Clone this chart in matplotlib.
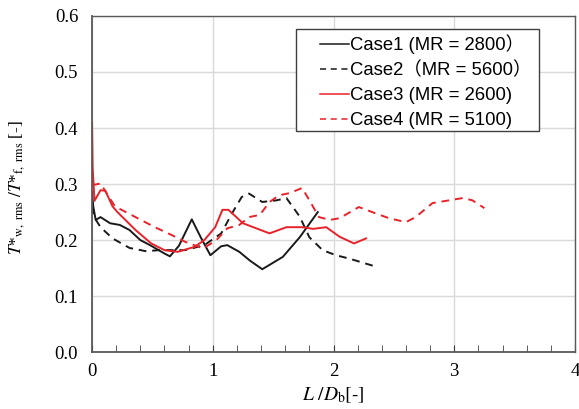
import matplotlib
matplotlib.use("Agg")
import matplotlib.pyplot as plt
from matplotlib.ticker import MultipleLocator, FormatStrFormatter
from matplotlib.patches import Rectangle

plt.rcParams['mathtext.fontset'] = 'stix'

# Case1 (black solid)
c1_x = [0.00, 0.01, 0.03, 0.07, 0.15, 0.23, 0.31, 0.40, 0.48, 0.60, 0.645, 0.72, 0.826, 0.90, 0.98, 1.07, 1.12, 1.22, 1.31, 1.41, 1.58, 1.72, 1.87]
c1_y = [0.285, 0.26, 0.236, 0.241, 0.23, 0.227, 0.218, 0.200, 0.191, 0.176, 0.171, 0.19, 0.237, 0.205, 0.173, 0.189, 0.191, 0.179, 0.163, 0.148, 0.170, 0.205, 0.250]

# Case2 (black dashed)
c2_x = [0.00, 0.02, 0.07, 0.17, 0.31, 0.45, 0.55, 0.77, 0.93, 1.07, 1.16, 1.24, 1.30, 1.41, 1.53, 1.61, 1.72, 1.80, 1.91, 2.02, 2.13, 2.33]
c2_y = [0.26, 0.24, 0.223, 0.203, 0.186, 0.18, 0.182, 0.182, 0.191, 0.212, 0.248, 0.277, 0.283, 0.268, 0.271, 0.275, 0.242, 0.205, 0.182, 0.173, 0.167, 0.154]

# Case3 (red solid)
c3_x = [0.00, 0.005, 0.02, 0.07, 0.11, 0.17, 0.21, 0.36, 0.49, 0.60, 0.71, 0.85, 0.93, 1.02, 1.08, 1.13, 1.25, 1.47, 1.61, 1.74, 1.83, 1.94, 2.05, 2.17, 2.27]
c3_y = [0.41, 0.33, 0.27, 0.289, 0.288, 0.26, 0.25, 0.218, 0.194, 0.182, 0.179, 0.188, 0.200, 0.223, 0.254, 0.254, 0.230, 0.212, 0.223, 0.223, 0.220, 0.223, 0.206, 0.194, 0.203]

# Case4 (red dashed)
c4_x = [0.00, 0.07, 0.19, 0.36, 0.52, 0.66, 0.77, 0.92, 1.03, 1.12, 1.22, 1.30, 1.39, 1.47, 1.55, 1.64, 1.74, 1.80, 1.88, 1.97, 2.05, 2.21, 2.32, 2.46, 2.60, 2.68, 2.82, 2.96, 3.07, 3.15, 3.25]
c4_y = [0.298, 0.301, 0.26, 0.241, 0.223, 0.209, 0.197, 0.185, 0.200, 0.221, 0.227, 0.241, 0.245, 0.268, 0.280, 0.284, 0.293, 0.271, 0.241, 0.236, 0.239, 0.259, 0.250, 0.239, 0.232, 0.241, 0.266, 0.271, 0.275, 0.271, 0.257]

labels = ['Case1 (MR = 2800\uff09', 'Case2\uff08MR = 5600\uff09',
          'Case3 (MR = 2600)', 'Case4 (MR = 5100)']

fig = plt.figure(figsize=(5.79, 4.09), dpi=100)
ax = fig.add_axes([0.159, 0.139, 0.834, 0.822])

red = '#e8222a'
ax.plot(c1_x, c1_y, color='#1a1a1a', lw=1.4, ls='-', label=labels[0])
ax.plot(c2_x, c2_y, color='#1a1a1a', lw=1.4, ls=(0, (4, 3)), label=labels[1])
ax.plot(c3_x, c3_y, color=red, lw=1.4, ls='-', label=labels[2])
ax.plot(c4_x, c4_y, color=red, lw=1.4, ls=(0, (4, 3)), label=labels[3])

ax.set_xlim(0, 4)
ax.set_ylim(0, 0.6)
ax.xaxis.set_major_locator(MultipleLocator(1))
ax.xaxis.set_minor_locator(MultipleLocator(0.2))
ax.yaxis.set_major_locator(MultipleLocator(0.1))
ax.yaxis.set_major_formatter(FormatStrFormatter('%.1f'))
ax.grid(True, which='major', color='#d9d9d9', lw=1.0)
ax.set_axisbelow(True)

for s in ax.spines.values():
    s.set_color('#595959')
    s.set_linewidth(1.0)
ax.spines['left'].set_linewidth(1.3)
ax.spines['bottom'].set_linewidth(1.3)

ax.tick_params(axis='x', which='both', direction='in', length=5, color='#404040', pad=8)
ax.tick_params(axis='y', which='both', length=0, pad=10)
for lab in ax.get_xticklabels() + ax.get_yticklabels():
    lab.set_fontfamily('Liberation Serif')
    lab.set_fontsize(13.5)

ax.set_xlabel(r'$L\ /D_{\mathrm{b}}\mathrm{[\text{-}]}$', fontsize=14, labelpad=4)
ax.set_ylabel(r'$T$*$_{\mathrm{w,\ rms}}\ /T$*$_{\mathrm{f,\ rms}}$ [-]', fontsize=12.5,
              family='Liberation Serif')
ax.yaxis.set_label_coords(-0.135, 0.49)

# legend box (frame drawn separately for exact padding)
ax.add_patch(Rectangle((0.422, 0.658), 0.503, 0.303, transform=ax.transAxes,
                       facecolor='white', edgecolor='#404040', lw=1.0, zorder=4))
leg = ax.legend(loc='upper left', bbox_to_anchor=(0.472, 0.945),
                prop={'family': ['Liberation Sans', 'Noto Sans CJK JP'], 'size': 13.3},
                frameon=False, handlelength=1.55, handletextpad=0.1,
                labelspacing=0.42, borderpad=0, borderaxespad=0)
leg.set_zorder(5)
for ln in leg.get_lines():
    ln.set_linewidth(1.1)

fig.savefig('out.png', dpi=100)
